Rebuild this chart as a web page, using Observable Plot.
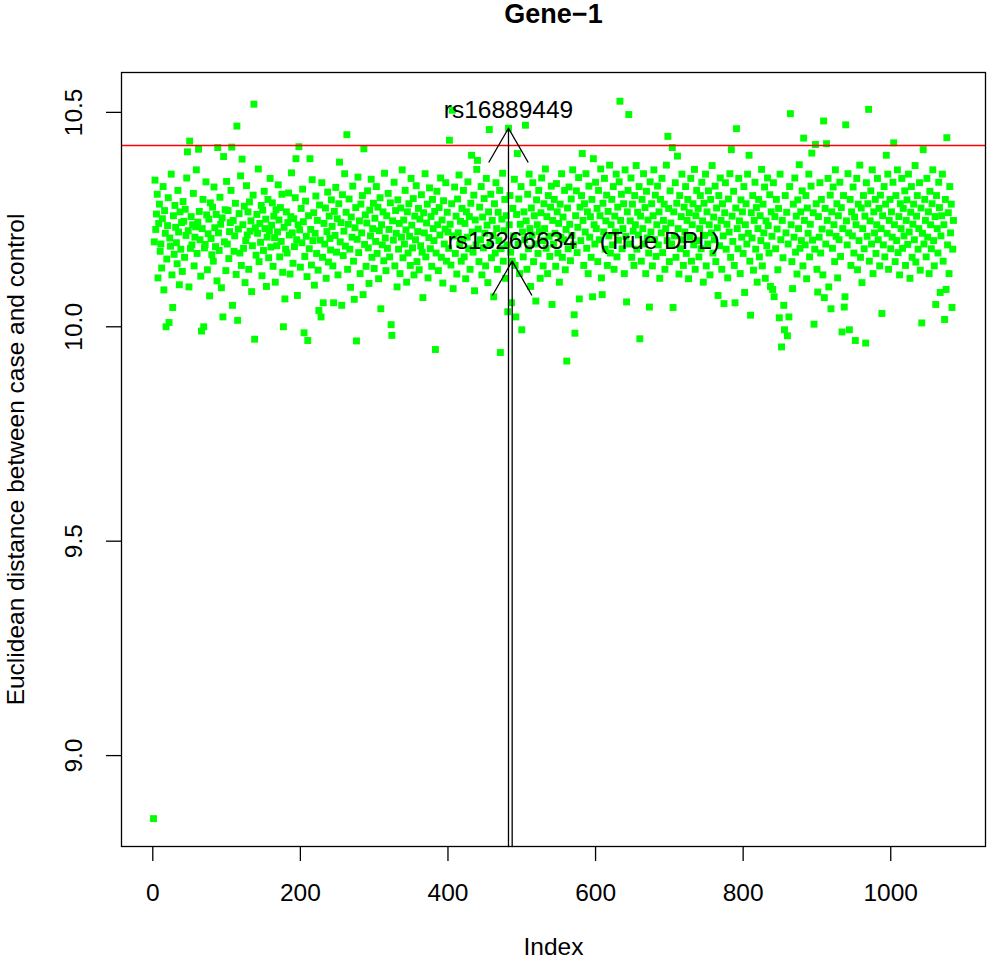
<!DOCTYPE html>
<html>
<head>
<meta charset="utf-8">
<script src="https://cdn.jsdelivr.net/npm/d3@7"></script>
<script src="https://cdn.jsdelivr.net/npm/@observablehq/plot@0.6"></script>
<style>
  html, body { margin: 0; padding: 0; background: #fff; }
  svg { display: block; }
</style>
</head>
<body>
<div id="chart"></div>
<script>
// Euclidean distance between case and control, by SNP index (1..n)
const distance = [
8.853,10.198,10.342,10.227,10.263,10.309,10.114,10.241,10.286,10.176,10.193,10.137,10.252,10.327,10.086,10.271,10.218,10.000,10.158,10.236,
10.301,10.010,10.207,10.188,10.356,10.121,10.045,10.259,10.169,10.283,10.232,10.196,10.147,10.318,10.221,10.098,10.268,10.181,10.243,10.129,
10.292,10.246,10.162,10.274,10.213,10.347,10.408,10.224,10.093,10.433,10.183,10.257,10.191,10.238,10.311,10.142,10.209,10.233,10.366,10.171,
10.244,10.414,10.269,10.203,10.118,9.990,10.229,10.297,10.000,10.184,10.192,10.338,10.261,10.133,10.217,10.251,10.072,10.289,10.206,10.168,
10.279,10.153,10.326,10.231,10.187,10.262,10.107,10.418,10.219,10.178,10.302,10.239,10.091,10.254,10.023,10.397,10.198,10.273,10.131,10.339,
10.193,10.271,10.159,10.222,10.243,10.318,10.419,10.050,10.248,10.176,10.212,10.288,10.122,10.468,10.015,10.228,10.264,10.172,10.352,10.143,
10.391,10.238,10.183,10.281,10.103,10.201,10.329,10.214,10.268,10.134,10.291,10.223,10.247,10.082,10.189,10.307,10.519,9.971,10.231,10.167,
10.262,10.218,10.368,10.152,10.241,10.197,10.283,10.119,10.272,10.178,10.316,10.229,10.251,10.094,10.209,10.297,10.161,10.224,10.346,10.186,
10.237,10.289,10.141,10.258,10.208,10.104,10.273,10.189,10.221,10.331,10.249,10.163,10.278,10.199,10.309,10.127,10.000,10.232,10.065,10.181,
10.268,10.172,10.243,10.312,10.214,10.123,10.257,10.359,10.219,10.148,10.252,10.187,10.301,10.392,10.203,10.073,10.238,10.420,10.226,10.139,
10.276,10.196,10.321,10.245,9.986,10.164,10.293,10.211,10.117,9.968,10.259,10.182,10.392,10.227,10.144,10.343,10.201,10.266,10.097,10.218,
10.305,10.171,10.248,10.132,10.038,10.284,10.202,10.023,10.336,10.162,10.056,10.241,10.193,10.277,10.113,10.222,10.314,10.151,10.258,10.206,
10.179,10.296,10.234,10.142,10.056,10.269,10.213,10.325,10.174,10.252,10.121,10.287,10.384,10.198,10.243,10.050,10.308,10.166,10.223,10.357,
10.188,10.267,10.448,10.134,10.239,10.298,10.181,10.092,10.256,10.209,10.328,10.153,10.064,10.231,10.278,9.967,10.204,10.349,10.173,10.247,
10.124,10.286,10.219,10.306,10.075,10.415,10.192,10.261,10.141,10.242,10.317,10.184,10.101,10.272,10.212,10.344,10.162,10.229,10.288,10.136,
10.253,10.199,10.327,10.171,10.279,10.112,10.224,10.301,10.042,10.238,10.191,10.268,10.154,10.358,10.207,10.131,10.259,10.183,10.311,10.227,
10.163,10.289,10.005,9.980,10.247,10.202,10.337,10.142,10.271,10.218,10.093,10.296,10.181,10.241,10.124,10.277,10.209,10.366,10.161,10.249,
10.193,10.318,10.226,10.104,10.268,10.172,10.287,10.211,10.143,10.346,10.237,10.184,10.299,10.121,10.258,10.203,10.329,10.152,10.222,10.276,
10.133,10.251,10.189,10.308,10.174,10.068,10.266,10.219,10.357,10.163,10.242,10.286,10.114,10.208,10.324,10.182,10.257,10.141,10.297,10.229,
10.201,10.269,9.947,10.172,10.316,10.238,10.131,10.278,10.214,10.347,10.162,10.249,10.102,10.294,10.193,10.228,10.336,10.153,10.267,10.221,
10.183,10.435,10.239,10.144,10.287,10.505,10.089,10.212,10.326,10.171,10.258,10.123,10.298,10.219,10.354,10.192,10.246,10.153,10.276,10.204,
10.318,10.163,10.241,10.112,10.268,10.209,10.338,10.182,10.257,10.134,10.288,10.400,10.221,10.174,10.307,10.084,10.249,10.191,10.367,10.388,
10.228,10.152,10.279,10.203,10.327,10.121,10.256,10.184,10.299,10.218,10.142,10.346,10.237,10.103,10.268,10.460,10.193,10.309,10.161,10.248,
10.213,10.070,10.287,10.172,10.336,10.229,10.134,10.267,10.201,10.318,9.940,10.182,10.251,10.358,10.153,10.224,10.297,10.113,10.259,10.191,
10.035,10.463,10.238,10.306,10.174,10.056,10.153,10.276,10.212,10.344,10.143,10.023,10.262,10.404,10.193,10.298,10.124,10.239,10.327,9.993,
10.221,10.163,10.268,10.203,10.470,10.247,10.134,10.309,10.182,10.356,10.229,10.094,10.277,10.214,10.336,10.152,10.259,10.193,10.060,10.296,
10.238,10.171,10.318,10.222,10.113,10.266,10.347,10.201,10.142,10.287,10.229,10.368,10.183,10.257,10.124,10.306,10.211,10.164,10.279,10.328,
10.052,10.248,10.193,10.297,10.218,10.141,10.334,10.268,10.172,10.241,10.104,10.286,10.209,10.357,10.162,10.256,10.203,10.318,10.133,10.227,
9.920,10.277,10.182,10.326,10.239,10.154,10.298,10.213,10.366,10.191,10.028,9.985,10.259,10.317,10.173,10.232,10.348,10.065,10.279,10.201,
10.306,10.404,10.248,10.143,10.287,10.221,10.357,10.183,10.268,10.124,10.328,10.209,10.257,10.162,10.297,10.070,10.392,10.238,10.193,10.337,
10.229,10.276,10.152,10.318,10.203,10.259,10.368,10.114,10.075,10.288,10.221,10.346,10.181,10.247,10.307,10.143,10.269,10.212,10.377,10.172,
10.238,10.297,10.191,10.327,10.134,10.258,10.221,10.356,10.163,10.279,10.202,10.338,10.526,10.248,10.309,10.182,10.229,10.287,10.124,10.366,
10.211,10.058,10.268,10.318,10.495,10.193,10.247,10.347,10.162,10.286,10.223,10.143,10.306,10.238,10.376,10.181,10.267,10.214,10.327,9.972,
10.258,10.153,10.297,10.229,10.357,10.193,10.278,10.124,10.316,10.207,10.249,10.172,10.046,10.338,10.221,10.287,10.142,10.259,10.366,10.203,
10.307,10.164,10.238,10.328,10.191,10.268,10.113,10.297,10.219,10.346,10.173,10.248,10.286,10.134,10.229,10.377,10.201,10.444,10.276,10.152,
10.317,10.242,10.193,10.418,10.045,10.268,10.212,10.336,10.162,10.288,10.398,10.229,10.123,10.306,10.182,10.257,10.356,10.203,10.143,10.279,
10.221,10.327,10.171,10.248,10.297,10.112,10.266,10.209,10.346,10.153,10.238,10.287,10.191,10.367,10.134,10.259,10.318,10.201,10.276,10.163,
10.229,10.306,10.182,10.337,10.247,10.104,10.288,10.213,10.356,10.142,10.268,10.193,10.317,10.238,10.121,10.297,10.219,10.376,10.172,10.256,
10.203,10.328,10.152,10.277,10.231,10.073,10.306,10.189,10.347,10.248,10.134,10.287,10.212,10.054,10.266,10.336,10.181,10.239,10.114,10.298,
10.221,10.357,10.162,10.413,10.258,10.199,10.316,10.143,10.056,10.277,10.462,10.229,10.182,10.346,10.247,10.124,10.296,10.209,10.268,10.171,
10.327,10.080,10.238,10.287,10.193,10.356,10.218,10.400,10.153,10.027,10.266,10.207,10.306,10.132,10.248,10.337,10.181,10.278,10.104,10.229,
10.297,10.163,10.259,10.201,10.367,10.142,10.286,10.219,10.326,10.113,10.247,10.189,10.347,10.236,10.172,10.308,10.094,10.268,10.211,10.087,
10.336,10.070,10.257,10.182,10.297,10.228,10.133,10.276,10.021,10.356,10.203,9.953,10.248,10.161,10.050,9.993,10.306,10.219,10.267,9.979,
10.193,10.023,10.327,10.497,10.238,10.152,10.089,10.286,10.209,10.347,10.174,10.258,10.123,10.296,10.229,10.378,10.183,10.268,10.201,10.317,
10.142,10.440,10.248,10.191,10.306,10.112,10.277,10.218,10.356,10.163,10.239,10.328,10.405,10.202,10.266,10.006,10.181,10.425,10.287,10.134,
10.081,10.257,10.209,10.336,10.172,10.297,10.228,10.121,10.480,10.068,10.276,10.193,10.427,10.248,10.346,10.093,10.219,10.307,10.042,10.268,
10.183,10.326,10.238,10.152,10.366,10.211,10.287,10.114,10.259,10.203,10.337,10.164,10.278,9.988,10.229,10.306,10.046,10.070,10.471,10.247,
10.191,10.357,10.219,9.993,10.297,10.143,10.268,10.212,10.326,10.172,10.256,9.968,10.238,10.346,10.133,10.286,10.201,10.377,10.162,10.277,
10.103,10.229,10.306,10.182,10.258,9.962,10.336,10.211,10.287,10.507,10.153,10.247,10.317,10.193,10.366,10.124,10.268,10.219,10.297,10.171,
10.238,10.346,10.203,10.276,10.142,10.307,10.229,10.031,10.259,10.191,10.327,10.163,10.286,10.400,10.218,10.356,10.134,10.248,10.297,10.182,
10.268,10.209,10.337,10.429,10.238,10.152,10.306,10.201,10.366,10.173,10.257,10.121,10.287,10.229,10.346,10.183,10.276,10.212,10.317,10.143,
10.248,10.296,10.192,10.356,10.221,10.113,10.267,10.327,10.162,10.239,10.286,10.203,10.376,10.151,10.258,10.306,10.181,10.229,10.336,10.132,
10.277,10.009,10.218,10.413,10.193,10.297,10.248,10.163,10.346,10.209,10.268,10.124,10.316,10.238,10.182,10.287,10.366,10.201,10.142,10.257,
10.052,10.306,10.229,10.172,10.337,10.278,10.080,10.212,10.259,10.356,10.153,10.238,10.017,10.297,10.087,10.441,10.191,10.266,10.124,10.327,
10.219,10.286,10.045,10.181,10.248
];

const xTicks = [0, 200, 400, 600, 800, 1000];
const yTicks = [9.0, 9.5, 10.0, 10.5];
const threshold = [10.423];

// annotated SNPs (index into distance, 1-based)
const snpLabels = ["rs16889449", "rs13266634"];
const snpIndex = [482, 487];
const snpLabelY = [10.505, 10.2];
const noteLabel = ["(True DPL)"];
const noteIndex = [687];
const noteY = [10.2];

const titleText = "Gene\u22121";
const xTitle = "Index";
const yTitle = "Euclidean distance between case and control";

const xDomain = [-42.4, 1128.4];
const yDomain = [8.788, 10.593];

const points = distance.map((v, i) => ({index: i + 1, value: v}));
const snps = snpLabels.map((label, k) => ({
  label, index: snpIndex[k], value: distance[snpIndex[k] - 1], labelY: snpLabelY[k]
}));
const notes = noteLabel.map((label, k) => ({label, index: noteIndex[k], y: noteY[k]}));

const FS = 24.5;
const chart = Plot.plot({
  width: 988,
  height: 963,
  marginTop: 72,
  marginRight: 3,
  marginBottom: 117,
  marginLeft: 121,
  style: {fontFamily: "'Liberation Sans', Arial, Helvetica, sans-serif", fontSize: FS + "px", background: "#fff", color: "#000"},
  x: {domain: xDomain},
  y: {domain: yDomain},
  marks: [
    Plot.dot(points, {x: "index", y: "value", symbol: "square", r: 3.9, fill: "#00FF00", stroke: null}),
    Plot.ruleY(threshold, {stroke: "#FF0000", strokeWidth: 1.5}),
    Plot.arrow(snps, {
      x1: "index", x2: "index", y1: () => yDomain[0], y2: "value",
      stroke: "#000", strokeWidth: 1.3, headLength: 45, headAngle: 60
    }),
    Plot.text(snps, {x: "index", y: "labelY", text: "label", fontSize: FS, fill: "#000"}),
    Plot.text(notes, {x: "index", y: "y", text: "label", fontSize: FS, fill: "#000"}),
    Plot.frame({stroke: "#000", strokeWidth: 1.3}),
    Plot.axisX({ticks: xTicks, tickSize: 15, tickFormat: () => "", label: null, strokeWidth: 1.3}),
    Plot.axisY({ticks: yTicks, tickSize: 15, tickFormat: () => "", label: null, strokeWidth: 1.3}),
    Plot.text(xTicks, {x: d => d, frameAnchor: "bottom", lineAnchor: "middle", dy: 47, text: d => String(d), fontSize: FS, fill: "#000"}),
    Plot.text(yTicks, {y: d => d, frameAnchor: "left", textAnchor: "middle", dx: -47, rotate: -90, text: d => d.toFixed(1), fontSize: FS, fill: "#000"}),
    Plot.text([titleText], {frameAnchor: "top", lineAnchor: "middle", dy: -58, fontSize: 27, fontWeight: "bold", fill: "#000"}),
    Plot.text([xTitle], {frameAnchor: "bottom", lineAnchor: "middle", dy: 101, fontSize: FS, fill: "#000"}),
    Plot.text([yTitle], {frameAnchor: "left", textAnchor: "middle", dx: -105, rotate: -90, fontSize: FS, fill: "#000"})
  ]
});
document.getElementById("chart").appendChild(chart);
</script>
</body>
</html>
